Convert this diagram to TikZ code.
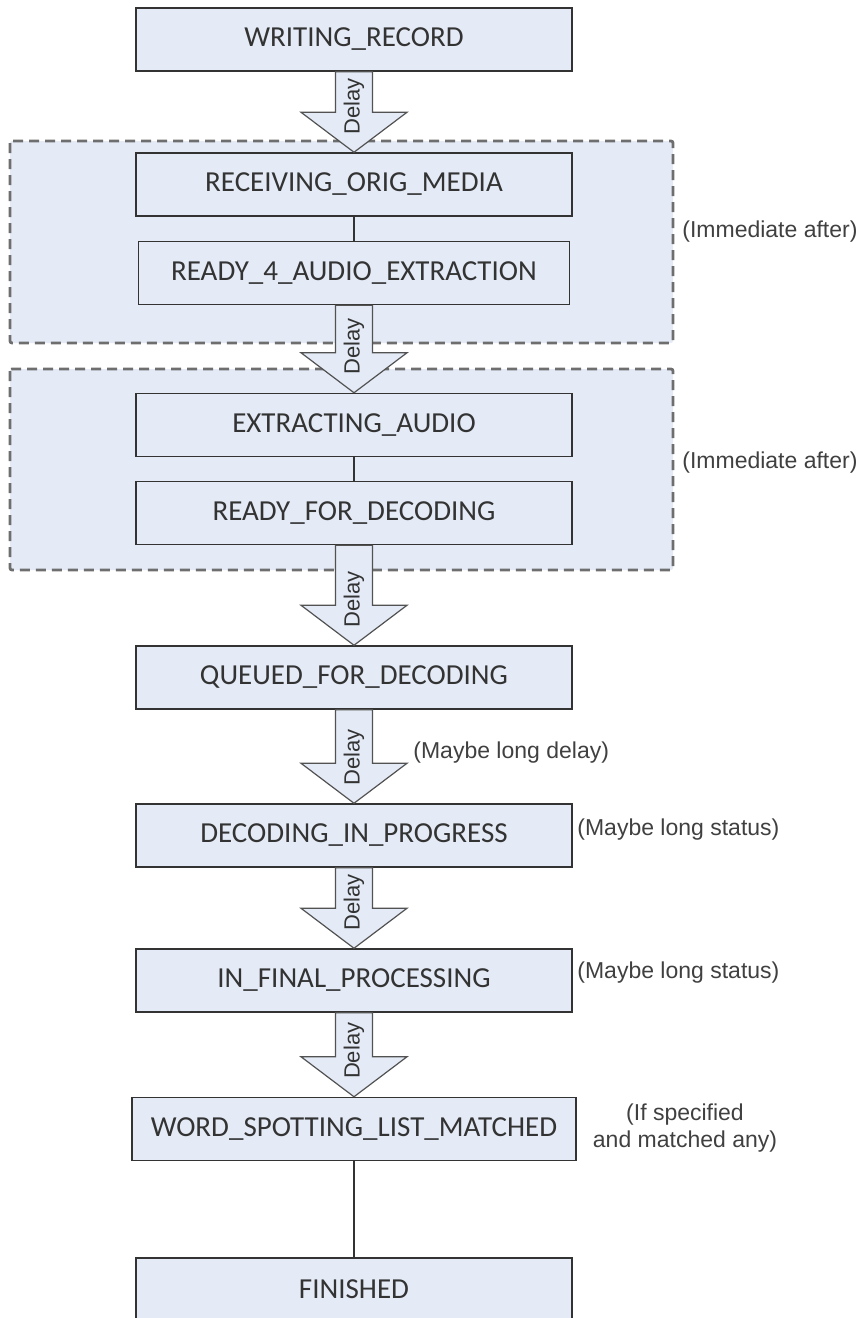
\documentclass[tikz,border=0pt]{standalone}
\usepackage{fontspec}
\setmainfont{Carlito}
\newfontfamily\notefont{Liberation Sans}
\usetikzlibrary{calc}
\definecolor{statefill}{HTML}{E4EBF6}
\definecolor{stateline}{HTML}{333333}
\definecolor{groupline}{HTML}{6E6E6E}
\definecolor{notetext}{HTML}{404040}
\tikzset{
    state box/.style = {
        draw = stateline,
        fill = statefill,
        line width = 0.75pt,
        minimum width = 218pt,
        minimum height = 31.5pt,
        inner sep = 0pt,
        text = black!80,
        font = \fontsize{14.5}{17}\selectfont,
        },
    group box/.style = {
        draw = groupline,
        fill = statefill,
        line width = 1.4pt,
        dash pattern = on 5pt off 3pt,
        rounded corners = 1pt,
        },
    delay arrow/.style = {
        draw = stateline!85,
        fill = statefill,
        line width = 0.6pt,
        },
    delay text/.style = {
        font = \notefont\fontsize{11}{13}\selectfont,
        rotate = 90,
        text = black!80,
        inner sep = 0pt,
        },
    note/.style = {
        font = \notefont\fontsize{11.5}{13.5}\selectfont,
        text = notetext,
        inner sep = 0pt,
        anchor = west,
        },
    link/.style = {
        draw = stateline,
        line width = 0.7pt,
        },
}
% block arrow from one state to the next
\newcommand{\delaystep}[2]{%
    \draw[delay arrow] let \p1 = (#1.south), \p2 = (#2.north) in
        (\x1-9.25pt,\y1) -- (\x1-9.25pt,\y2+20pt) -- (\x1-26.5pt,\y2+20pt)
        -- (\x1,\y2) -- (\x1+26.5pt,\y2+20pt) -- (\x1+9.25pt,\y2+20pt)
        -- (\x1+9.25pt,\y1) -- cycle
        node[delay text] at (\x1,\y2+23pt) {Delay};
}

\begin{document}
\begin{tikzpicture}[x=0.5pt, y=-0.5pt]
    \useasboundingbox (0,0) rectangle (863,1318);

    % groups of states passed immediately
    \draw[group box] (10,141) rectangle (673,343);
    \draw[group box] (10,369) rectangle (673,570);

    \node[state box] (writing) at (354,39.5) {WRITING\_RECORD};
    \node[state box] (receiving) at (354,184.5) {RECEIVING\_ORIG\_MEDIA};
    \node[state box, minimum width=215.5pt] (ready4) at (354,273) {READY\_4\_AUDIO\_EXTRACTION};
    \node[state box] (extracting) at (354,425) {EXTRACTING\_AUDIO};
    \node[state box] (readydec) at (354,513) {READY\_FOR\_DECODING};
    \node[state box] (queued) at (354,677.5) {QUEUED\_FOR\_DECODING};
    \node[state box] (decoding) at (354,835.5) {DECODING\_IN\_PROGRESS};
    \node[state box] (final) at (354,980.5) {IN\_FINAL\_PROCESSING};
    \node[state box, minimum width=222pt] (spotting) at (354,1129) {WORD\_SPOTTING\_LIST\_MATCHED};
    \node[state box] (finished) at (354,1289.5) {FINISHED};

    \draw[link] (receiving) -- (ready4);
    \draw[link] (extracting) -- (readydec);
    \draw[link] (spotting) -- (finished);

    \delaystep{writing}{receiving}
    \delaystep{ready4}{extracting}
    \delaystep{readydec}{queued}
    \delaystep{queued}{decoding}
    \delaystep{decoding}{final}
    \delaystep{final}{spotting}

    \node[note] (immed1) at (682,232) {(Immediate after)};
    \node[note] (immed2) at (682,463) {(Immediate after)};
    \node[note] (longdelay) at (413,753) {(Maybe long delay)};
    \node[note] (longstat1) at (577,830) {(Maybe long status)};
    \node[note] (longstat2) at (577,973) {(Maybe long status)};
    \node[note, anchor=center, align=center] (ifspec) at (685,1128) {(If specified\\and matched any)};
\end{tikzpicture}
\end{document}
